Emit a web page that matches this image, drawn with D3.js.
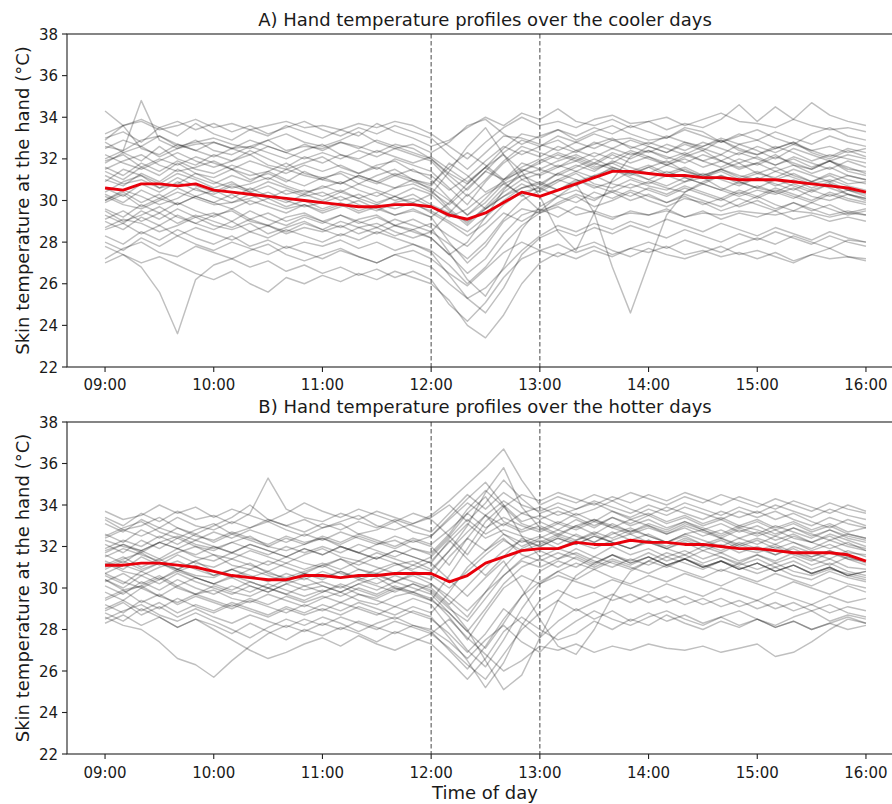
<!DOCTYPE html>
<html>
<head>
<meta charset="utf-8">
<script src="https://cdnjs.cloudflare.com/ajax/libs/d3/7.8.5/d3.min.js"></script>
<style>
    body { margin: 0; background: #fff; }
    svg { display: block; }
    text { font-family: "DejaVu Sans", sans-serif; fill: #1a1a1a; }
</style>
</head>
<body>
<div id="chart"></div>
<script>
// sample times in hours, one every 10 minutes from 09:00 to 16:00
const sampleTimes = d3.range(0, 43).map(i => 9 + i / 6);
const tickHours = [9, 10, 11, 12, 13, 14, 15, 16];
const tickLabels = ["09:00", "10:00", "11:00", "12:00", "13:00", "14:00", "15:00", "16:00"];
const tempTicks = [22, 24, 26, 28, 30, 32, 34, 36, 38];
const markerHours = [12, 13];
const titles = ["A) Hand temperature profiles over the cooler days", "B) Hand temperature profiles over the hotter days"];

// red line: mean profile
const meanCool = [30.6, 30.5, 30.8, 30.8, 30.7, 30.8, 30.5, 30.4, 30.3, 30.2, 30.1, 30.0,
    29.9, 29.8, 29.7, 29.7, 29.8, 29.8, 29.7, 29.3, 29.1, 29.4, 29.9, 30.4,
    30.2, 30.5, 30.8, 31.1, 31.4, 31.4, 31.3, 31.2, 31.2, 31.1, 31.1, 31.0,
    31.0, 31.0, 30.9, 30.8, 30.7, 30.6, 30.4];
const meanHot = [31.1, 31.1, 31.2, 31.2, 31.1, 31.0, 30.8, 30.6, 30.5, 30.4, 30.4, 30.6,
    30.6, 30.5, 30.6, 30.6, 30.7, 30.7, 30.7, 30.3, 30.6, 31.2, 31.5, 31.8,
    31.9, 31.9, 32.2, 32.1, 32.1, 32.3, 32.2, 32.2, 32.1, 32.1, 32.0, 31.9,
    31.9, 31.8, 31.7, 31.7, 31.7, 31.6, 31.3];

// grey lines: individual profiles on the cooler days
const coolProfiles = [
    [34.3,33.6,33.8,33.4,33.6,33.9, 33.5,33.7,33.4,33.6,33.8,33.5, 33.6,33.4,33.7,33.5,33.8,33.6, 33.2,32.6,32.0,32.8,33.5,34.0, 33.6,33.8,33.5,33.9,34.1,33.7, 33.8,34.0,33.6,33.9,34.2,33.8, 33.7,33.5,33.9,33.6,33.4,33.5, 33.3],
    [32.6,32.4,34.8,32.9,32.5,32.7, 32.8,32.5,32.6,32.9,32.4,32.6, 32.5,32.8,32.6,32.3,32.7,32.5, 32.0,31.2,30.5,31.4,32.3,32.9, 32.6,33.1,32.8,33.2,32.9,33.0, 32.7,33.1,32.8,32.6,33.0,32.7, 32.9,32.5,32.8,32.4,32.6,32.3, 32.5],
    [31.8,32.3,31.9,32.6,32.0,31.7, 32.2,31.9,32.4,32.0,31.6,32.1, 31.8,32.2,31.9,31.5,32.0,31.7, 31.4,30.6,29.8,30.9,31.8,32.4, 32.1,32.6,32.3,32.8,32.5,32.9, 32.6,32.3,32.8,32.5,32.2,32.7, 32.4,32.0,32.5,32.2,31.9,32.2, 32.0],
    [31.4,31.0,31.6,31.2,31.8,31.3, 31.1,31.5,31.0,31.3,30.9,31.4, 31.0,30.8,31.2,30.9,31.3,31.0, 30.5,29.6,28.9,29.7,30.6,31.2, 31.5,31.9,32.2,31.8,32.3,32.0, 32.4,32.1,31.8,32.2,31.9,32.3, 32.0,31.7,32.1,31.8,31.5,31.9, 31.6],
    [30.9,31.5,31.2,30.8,31.3,31.0, 30.6,30.9,30.4,30.7,30.3,30.5, 30.2,30.5,30.1,30.4,30.0,30.3, 29.8,29.4,29.0,29.6,30.2,30.6, 30.8,31.3,31.7,31.4,31.9,31.6, 31.3,31.7,31.4,31.1,31.5,31.2, 31.0,31.4,31.1,30.8,31.0,30.7, 30.5],
    [30.3,29.9,30.5,30.1,30.6,30.2, 29.9,30.3,29.8,30.1,29.7,30.0, 29.6,29.9,29.5,29.8,29.6,29.9, 29.4,28.9,28.3,28.9,29.8,30.4, 30.6,31.0,30.7,31.2,31.5,31.1, 30.8,31.2,30.9,31.3,31.0,30.7, 31.1,30.8,30.5,30.9,30.6,30.3, 30.1],
    [29.6,29.2,29.8,29.4,29.9,29.5, 29.2,29.6,29.1,29.4,29.0,29.3, 29.0,29.3,28.9,29.2,28.8,29.1, 28.7,27.5,26.2,25.4,26.8,28.6, 29.7,30.2,29.9,30.4,30.1,30.5, 30.2,29.9,30.3,30.0,29.7,30.1, 29.8,29.5,29.9,29.6,29.3,29.5, 29.3],
    [29.0,28.6,29.2,28.8,29.3,28.9, 28.6,29.0,28.5,28.8,28.4,28.7, 28.5,28.8,28.4,28.7,28.3,28.6, 28.2,27.4,26.5,27.2,28.4,29.3, 29.6,29.2,29.7,29.4,29.1,29.5, 29.3,29.6,29.2,29.5,29.1,29.4, 29.2,29.5,29.1,29.3,29.0,29.2, 29.0],
    [28.3,27.9,28.5,28.1,28.6,28.2, 27.9,28.3,27.8,28.1,27.7,28.0, 27.8,28.1,27.7,28.0,27.6,27.9, 27.5,26.4,25.3,24.6,25.8,27.4, 28.2,28.6,28.3,28.7,28.4,28.8, 28.5,28.2,28.6,28.3,28.0,28.4, 28.1,28.5,28.2,27.9,28.3,28.0, 27.8],
    [27.0,27.4,26.8,25.6,23.6,26.2, 26.9,27.2,26.8,27.1,26.6,26.9, 26.5,26.8,26.4,26.7,26.3,26.6, 26.2,25.0,24.2,25.1,26.3,27.2, 27.6,27.9,27.5,27.8,27.4,27.7, 27.5,27.8,27.4,27.6,27.3,27.5, 27.2,27.5,27.1,27.4,27.2,27.3, 27.2],
    [27.8,27.4,27.0,27.3,26.9,26.5, 26.2,26.6,26.0,25.6,26.3,26.0, 26.4,26.1,26.5,26.2,26.6,26.3, 26.0,25.2,24.0,23.4,24.5,26.0, 27.0,27.5,27.2,27.6,27.3,27.7, 28.0,27.7,28.1,27.8,27.5,27.9, 28.2,27.9,28.3,28.0,27.7,28.1, 28.0],
    [31.9,32.2,31.6,32.0,31.7,32.1, 31.8,31.5,31.9,31.6,31.3,31.7, 31.4,31.7,31.3,31.6,31.2,31.5, 31.0,30.1,29.3,29.9,30.8,30.3, 29.5,30.2,30.8,29.4,26.8,24.6, 27.0,29.3,30.4,30.9,31.2,30.8, 31.1,30.7,31.0,30.6,30.9,30.5, 30.4],
    [33.0,33.3,32.8,33.5,33.1,33.7, 33.2,32.9,33.4,33.1,33.6,33.3, 33.0,33.4,33.1,33.7,33.3,33.0, 32.6,32.9,33.5,34.0,33.6,34.2, 33.9,34.4,33.8,33.6,33.9,33.5, 33.8,33.4,33.7,33.5,33.9,34.6, 33.8,34.5,33.9,34.7,34.1,33.8, 33.6],
    [30.6,30.2,30.8,30.4,30.9,30.5, 30.3,30.7,30.4,30.1,30.5,30.2, 30.4,30.0,30.3,29.9,30.2,29.8, 29.5,29.0,28.5,29.2,30.0,30.6, 30.9,30.5,31.0,30.7,30.4,30.8, 30.5,30.2,30.6,30.3,30.0,30.4, 30.1,30.5,30.2,29.9,30.3,30.0, 29.8],
    [29.9,30.3,29.7,30.1,29.8,30.2, 29.9,29.6,30.0,29.7,29.4,29.8, 29.5,29.8,29.4,29.7,29.3,29.6, 29.2,28.0,27.0,27.8,29.0,29.6, 29.4,29.7,29.3,29.5,29.2,29.4, 29.3,29.5,29.2,29.4,29.3,29.5, 29.4,29.3,29.5,29.4,29.2,29.4, 29.3],
    [32.5,32.9,32.6,33.1,32.7,32.4, 32.8,32.5,32.9,32.6,32.3,32.7, 32.4,32.8,32.5,32.9,32.6,32.3, 32.0,31.3,30.8,31.6,32.5,33.2, 33.0,33.4,33.1,33.5,33.2,33.6, 33.3,33.0,33.4,33.1,32.8,33.2, 32.9,33.3,33.0,32.7,33.1,32.8, 32.6],
    [31.0,30.7,31.3,30.9,31.5,31.1, 30.8,31.2,30.9,31.4,31.0,30.7, 31.1,30.8,31.2,30.9,30.6,31.0, 30.7,31.8,31.2,30.4,30.9,31.5, 31.2,31.6,31.9,31.5,31.8,31.4, 31.7,31.3,31.6,31.2,31.5,31.1, 31.4,31.0,31.3,30.9,31.2,30.8, 30.9],
    [28.6,28.9,28.4,28.8,28.3,28.7, 28.4,28.1,28.5,28.2,28.6,28.3, 28.0,28.4,28.1,28.5,28.2,27.9, 27.6,26.9,26.0,26.8,27.9,28.8, 29.4,29.9,30.3,30.0,30.5,30.2, 30.6,30.3,30.7,30.4,30.1,30.5, 30.2,30.6,30.3,30.0,30.4,30.1, 29.9],
    [32.9,33.6,32.5,32.2,32.7,32.4, 32.1,32.5,32.2,32.6,32.3,32.0, 32.3,32.0,32.4,32.1,32.5,32.2, 31.9,31.0,30.2,31.0,31.9,32.6, 32.3,32.0,32.4,32.1,32.5,32.2, 32.4,32.0,32.3,31.9,32.2,31.8, 32.1,31.7,32.0,31.6,31.9,31.5, 31.4],
    [29.3,28.9,29.5,29.1,29.6,29.2, 29.4,29.0,29.5,29.1,28.8,29.2, 28.9,29.3,29.0,28.7,29.1,28.8, 28.5,27.9,27.2,28.0,29.1,30.0, 30.5,31.0,31.4,31.1,31.6,31.3, 31.0,31.4,31.1,30.8,31.2,30.9, 30.6,31.0,30.7,30.4,30.8,30.5, 30.3],
    [30.0,30.4,29.9,30.3,29.8,30.2, 30.5,30.1,30.6,30.2,29.9,30.3, 30.0,30.4,30.1,29.8,30.2,29.9, 30.3,31.4,32.6,33.5,32.2,31.0, 31.3,31.7,31.4,31.8,31.5,31.2, 31.6,31.2,31.5,31.1,31.4,31.0, 31.3,31.6,31.2,30.9,31.3,31.0, 30.8],
    [28.0,27.6,28.2,27.8,28.3,27.9, 27.6,28.0,27.7,27.4,27.8,27.5, 27.2,27.6,27.3,27.0,27.4,27.1, 26.8,26.0,25.3,25.8,26.7,27.6, 28.3,28.8,28.5,28.9,28.6,29.0, 28.7,29.1,28.8,28.5,28.9,28.6, 28.3,28.7,28.4,28.1,28.5,28.2, 28.0],
    [33.2,33.6,33.9,33.5,33.8,33.4, 33.7,33.3,33.6,33.2,33.5,33.8, 33.4,33.1,33.5,33.2,33.6,33.3, 33.0,32.2,31.5,32.3,33.1,33.0, 32.7,32.4,32.8,32.5,32.9,32.6, 32.3,32.7,32.4,32.8,32.5,32.2, 32.6,32.3,32.7,32.4,32.1,32.5, 32.3],
    [31.2,30.8,31.0,30.6,31.1,30.7, 30.4,30.8,30.5,30.9,30.6,30.3, 30.7,30.4,30.8,30.5,30.2,30.6, 30.3,29.5,28.8,29.6,30.4,31.0, 30.6,30.2,30.5,30.1,30.4,30.0, 30.3,29.9,30.2,29.8,30.1,29.7, 30.0,29.6,29.9,29.5,29.8,29.4, 29.6],
    [29.1,29.5,29.0,29.4,28.9,29.3, 29.0,28.7,29.1,28.8,28.5,28.9, 28.6,29.0,28.7,28.4,28.8,28.5, 28.2,27.4,28.0,29.2,30.5,31.4, 31.8,32.2,31.9,32.3,32.0,32.4, 32.1,31.8,32.2,31.9,31.6,32.0, 31.7,32.1,31.8,31.5,31.9,31.6, 31.3],
    [31.6,31.2,31.8,31.4,31.9,31.5, 31.3,31.7,31.4,31.0,31.5,31.2, 31.0,31.4,31.1,30.8,31.2,30.9, 30.6,30.0,29.3,30.1,31.0,31.6, 32.0,31.6,32.1,31.7,32.2,31.8, 32.1,31.7,32.0,31.6,31.9,31.5, 31.8,31.4,31.7,31.3,31.6,31.2, 31.0],
    [32.0,32.4,32.9,33.1,32.6,32.8, 33.0,32.7,32.5,32.9,33.2,32.8, 32.6,32.9,33.3,32.8,32.5,32.7, 32.3,32.8,33.6,33.9,33.2,32.7, 33.1,33.4,32.9,33.3,33.6,33.2, 32.9,33.0,33.5,33.3,32.8,33.1, 33.4,33.0,32.7,33.2,33.5,33.1, 32.9],
    [31.5,31.9,32.2,31.7,31.4,31.6, 31.9,31.5,31.2,31.4,31.8,31.3, 31.1,31.3,30.8,31.2,31.5,31.0, 30.8,31.6,32.3,31.7,31.0,31.4, 31.9,32.3,32.0,31.6,31.8,32.3, 32.0,31.7,32.1,32.4,31.9,31.6, 31.8,32.2,31.7,31.5,31.9,31.4, 31.2],
    [30.2,29.8,29.6,30.0,30.4,30.1, 29.8,29.9,30.3,29.9,29.6,29.8, 29.4,29.7,30.0,29.6,29.3,29.5, 29.2,29.9,30.8,31.6,30.9,30.2, 30.7,31.3,31.0,30.6,30.9,31.4, 31.0,30.7,31.1,30.8,30.5,30.9, 30.6,30.4,30.8,30.5,30.2,30.5, 30.2],
    [28.7,29.1,28.9,28.5,28.8,29.2, 28.8,28.6,28.9,28.4,28.7,29.0, 28.6,28.3,28.7,28.9,28.5,28.2, 28.5,29.4,30.3,29.6,30.2,30.8, 30.4,30.9,31.3,30.8,30.6,31.0, 30.7,30.5,30.9,31.1,30.6,30.3, 30.7,30.4,30.1,30.5,30.8,30.3, 30.1],
    [32.2,31.8,31.5,31.9,32.3,31.9, 31.6,31.9,32.2,31.7,31.5,31.8, 32.1,31.6,31.3,31.7,31.9,31.4, 31.2,30.5,31.1,31.9,32.6,32.2, 32.6,32.9,32.4,32.7,33.0,32.5, 32.8,32.5,32.2,32.6,32.9,32.4, 32.2,32.6,32.3,31.9,32.2,32.0, 31.8],
    [29.5,29.0,29.3,29.7,29.2,28.9, 29.3,29.5,29.0,28.8,29.2,29.4, 29.0,28.7,29.1,29.3,28.8,28.6, 28.9,28.3,27.8,28.6,29.4,29.0, 29.5,29.8,30.2,29.7,30.0,30.4, 30.0,29.7,30.1,29.9,29.5,29.8, 30.2,29.8,29.5,29.9,29.6,29.3, 29.5],
    [30.4,30.9,31.2,30.6,30.8,31.3, 30.9,30.6,30.8,31.1,30.7,30.4, 30.6,30.9,30.5,30.2,30.6,30.8, 30.4,29.8,30.6,31.4,31.0,31.8, 31.5,31.2,31.6,32.0,31.6,31.3, 31.6,31.9,31.4,31.2,31.5,31.8, 31.3,31.1,31.5,31.2,30.9,31.2, 31.0],
    [32.8,32.3,32.6,32.1,32.5,32.9, 32.4,32.2,32.6,32.3,32.0,32.4, 32.7,32.2,32.0,32.4,32.1,31.8, 32.1,31.5,30.9,31.6,32.2,31.4, 30.2,28.5,27.6,29.4,31.0,32.1, 32.6,32.3,32.7,32.4,32.9,32.5, 32.2,32.5,32.8,32.3,32.0,32.4, 32.1],
    [30.0,30.5,30.2,29.8,30.1,30.6, 30.2,29.9,30.1,30.4,30.0,29.7, 29.9,30.2,29.8,29.5,29.9,30.1, 29.7,29.2,29.6,30.3,30.8,31.2, 30.8,30.5,30.9,31.2,30.8,30.6, 30.9,30.6,30.4,30.8,30.5,30.2, 30.5,30.3,30.6,30.2,30.0,30.3, 30.0],
    [27.2,27.7,28.0,27.5,27.3,27.8, 27.5,27.2,27.6,27.9,27.4,27.1, 27.4,27.7,27.3,27.0,27.4,27.6, 27.2,26.5,25.9,26.7,27.5,28.0, 27.6,27.3,27.7,28.0,27.6,27.3, 27.7,27.4,27.2,27.5,27.8,27.4, 27.6,27.3,27.0,27.4,27.7,27.3, 27.1]
];

// grey lines: individual profiles on the hotter days
const hotProfiles = [
    [33.4,33.0,33.6,33.2,33.7,33.3, 33.5,33.1,33.6,35.3,33.8,33.4, 33.2,33.6,33.3,33.7,33.4,33.1, 33.5,34.2,35.0,35.8,36.7,35.2, 34.0,34.4,34.1,34.5,34.2,34.6, 34.3,34.0,34.4,34.1,34.5,34.2, 33.9,34.3,34.0,33.7,34.1,33.8, 33.6],
    [32.4,32.8,32.5,32.9,32.6,32.3, 32.7,32.4,32.8,32.5,32.2,32.6, 32.3,32.7,32.4,32.1,32.5,32.2, 32.5,33.4,34.3,35.1,34.0,33.2, 33.5,33.1,33.6,33.2,33.7,33.3, 33.6,33.2,33.5,33.1,33.4,33.0, 33.3,32.9,33.2,32.8,33.1,32.7, 32.9],
    [31.9,32.3,32.0,32.5,32.1,32.6, 32.2,32.6,32.3,32.0,32.4,32.1, 32.5,32.2,32.6,32.3,32.0,32.4, 32.1,32.8,33.6,32.9,33.4,33.0, 32.7,33.1,32.8,33.2,32.9,33.3, 33.0,32.7,33.1,32.8,32.5,32.9, 32.6,33.0,32.7,32.4,32.8,32.5, 32.3],
    [31.6,31.2,31.8,31.4,31.9,31.5, 31.3,31.7,31.4,31.1,31.5,31.2, 31.0,31.4,31.1,31.5,31.2,30.9, 31.3,32.2,33.1,32.4,32.8,32.5, 32.2,32.6,32.3,32.7,32.4,32.8, 32.5,32.2,32.6,32.3,32.0,32.4, 32.1,32.5,32.2,31.9,32.3,32.0, 31.8],
    [31.1,31.5,31.0,31.4,30.9,31.3, 30.8,30.5,30.9,30.6,30.3,30.7, 30.4,30.8,30.5,30.2,30.6,30.3, 30.0,29.2,30.1,31.0,31.8,32.3, 32.0,32.4,32.1,32.5,32.2,31.9, 32.3,32.0,32.4,32.1,31.8,32.2, 31.9,31.6,32.0,31.7,31.4,31.8, 31.5],
    [30.4,30.0,30.6,30.2,30.7,30.3, 30.0,29.7,30.1,29.8,30.2,29.9, 30.1,29.8,30.2,29.9,30.3,30.0, 29.7,28.8,27.9,29.0,30.2,31.0, 31.4,31.0,31.5,31.1,31.6,31.2, 31.5,31.1,31.4,31.0,31.3,30.9, 31.2,30.8,31.1,30.7,31.0,30.6, 30.8],
    [29.8,29.4,30.0,29.6,30.1,29.7, 29.4,29.1,29.5,29.2,29.6,29.3, 29.6,29.3,29.7,29.4,29.1,29.5, 29.2,28.1,27.0,26.2,27.5,29.0, 30.2,30.8,31.2,30.9,31.3,31.0, 30.7,31.1,30.8,30.5,30.9,30.6, 30.3,30.7,30.4,30.1,30.5,30.2, 30.0],
    [29.2,28.8,29.4,29.0,29.5,29.1, 28.8,29.2,28.9,28.6,29.0,28.7, 29.0,28.7,29.1,28.8,28.5,28.9, 28.6,27.6,26.5,25.2,26.4,28.2, 29.4,29.9,29.5,29.8,29.4,29.7, 29.3,29.6,29.2,29.5,29.1,29.4, 29.0,29.3,28.9,29.2,28.8,29.1, 28.9],
    [28.6,28.2,28.0,27.4,26.6,26.3, 25.7,26.5,27.2,27.8,28.2,27.9, 28.3,28.0,28.4,28.1,27.8,28.2, 27.9,27.0,26.1,27.2,28.5,29.6, 30.3,30.8,30.4,30.9,30.5,30.2, 30.6,30.3,30.7,30.4,30.1,30.5, 30.2,29.9,30.3,30.0,29.7,30.1, 29.8],
    [28.8,28.4,29.0,28.6,28.1,28.5, 28.0,27.5,27.0,26.6,26.9,27.3, 27.6,27.2,27.7,27.3,27.0,27.4, 27.8,28.5,27.6,26.8,26.0,26.5, 27.2,27.0,27.3,26.9,27.2,27.0, 27.3,27.1,27.0,27.2,26.9,27.1, 27.3,26.7,26.9,27.4,28.0,28.5, 28.3],
    [33.1,32.7,33.3,32.9,33.4,33.0, 32.8,33.2,32.9,33.3,33.0,32.7, 33.1,32.8,33.2,32.9,33.3,33.0, 32.7,33.6,34.5,33.8,34.6,34.0, 33.7,34.1,33.8,34.2,33.9,33.6, 34.0,33.7,34.1,33.8,33.5,33.9, 33.6,34.0,33.7,33.4,33.8,33.5, 33.3],
    [31.8,32.1,31.7,32.2,31.9,32.3, 32.0,31.7,32.1,31.8,31.5,31.9, 31.6,32.0,31.7,31.4,31.8,31.5, 31.2,30.4,29.6,30.5,31.3,30.0, 28.5,27.2,26.8,28.0,29.6,30.8, 31.3,31.7,31.4,31.8,31.5,31.2, 31.6,31.3,31.7,31.4,31.1,31.5, 31.2],
    [30.7,31.1,30.8,31.2,30.9,30.6, 30.5,30.9,30.6,30.3,30.7,30.4, 30.8,30.5,30.9,30.6,30.3,30.7, 30.4,31.5,32.4,31.8,32.6,32.2, 32.5,32.1,32.6,32.2,32.7,32.3, 32.6,32.2,32.5,32.1,32.4,32.0, 32.3,31.9,32.2,31.8,32.1,31.7, 31.6],
    [29.5,29.9,29.3,29.7,29.2,29.6, 29.3,29.0,29.4,29.1,28.8,29.2, 28.9,29.3,29.0,28.7,29.1,28.8, 28.5,27.8,26.9,27.8,29.0,28.3, 27.6,28.4,29.0,28.5,28.9,28.4, 28.8,28.4,28.7,28.3,28.6,28.2, 28.5,28.1,28.4,28.0,28.3,28.6, 28.3],
    [32.1,31.7,32.3,31.9,32.4,32.0, 31.8,32.2,31.9,31.6,32.0,31.7, 32.0,31.7,32.1,31.8,31.5,31.9, 31.6,32.5,33.6,34.4,33.2,32.8, 33.2,32.8,33.3,32.9,33.4,33.0, 33.3,32.9,33.2,32.8,33.1,32.7, 33.0,32.6,32.9,32.5,32.8,32.4, 32.2],
    [30.1,29.7,30.3,29.9,30.4,30.0, 29.7,30.1,29.8,30.2,29.9,29.6, 29.9,29.6,30.0,29.7,30.1,29.8, 29.5,28.6,27.5,28.8,30.0,30.6, 30.2,30.6,30.3,30.0,30.4,30.1, 29.8,30.2,29.9,29.6,30.0,29.7, 29.4,29.8,29.5,29.2,29.6,29.3, 29.5],
    [31.3,30.9,31.5,31.1,31.6,31.2, 31.0,31.4,31.1,30.8,31.2,30.9, 31.2,30.9,31.3,31.0,30.7,31.1, 30.8,31.8,33.0,34.6,35.8,33.9, 32.9,32.5,33.0,32.6,33.1,32.7, 33.0,32.6,32.9,32.5,32.8,32.4, 32.7,32.3,32.6,32.2,32.5,32.1, 31.9],
    [28.9,29.3,28.7,29.1,28.6,29.0, 28.6,28.3,28.7,28.4,28.1,28.5, 28.2,28.6,28.3,28.0,28.4,28.1, 27.8,27.1,26.3,25.6,26.8,28.0, 28.8,29.4,28.9,29.3,29.7,29.3, 29.7,29.3,29.6,29.2,29.5,29.1, 29.4,29.0,29.3,28.9,29.2,28.8, 28.6],
    [33.7,33.3,33.5,34.0,33.6,33.9, 33.4,33.8,33.5,33.2,33.6,34.1, 33.7,33.4,33.8,33.5,33.2,33.6, 33.3,32.5,31.6,32.8,33.9,34.5, 34.2,34.6,34.3,34.0,34.4,34.1, 34.5,34.2,34.6,34.3,34.0,34.4, 34.1,33.8,34.2,33.9,33.6,34.0, 33.7],
    [30.6,30.2,30.8,30.4,30.9,30.5, 30.2,30.6,30.3,30.0,30.4,30.1, 30.3,30.0,30.4,30.1,29.8,30.2, 29.9,29.1,28.0,26.5,25.1,25.8, 27.6,29.4,30.6,31.2,31.6,31.2, 31.5,31.1,31.4,31.0,31.3,30.9, 31.2,30.8,31.1,30.7,31.0,30.6, 30.4],
    [32.6,32.2,32.8,32.4,32.9,32.5, 32.3,32.7,32.4,32.1,32.5,32.2, 32.4,32.1,32.5,32.2,31.9,32.3, 32.0,31.1,32.4,33.5,33.0,33.6, 33.3,33.7,33.4,33.0,33.4,33.1, 33.5,33.1,33.4,33.0,33.3,32.9, 33.2,32.8,33.1,32.7,33.0,32.6, 32.4],
    [29.0,29.4,28.9,29.3,28.8,29.2, 28.9,29.3,29.0,28.7,29.1,28.8, 29.2,28.9,29.3,29.0,28.7,29.1, 28.8,29.8,31.0,31.8,32.4,31.6, 31.3,31.7,31.4,31.0,31.4,31.1, 31.5,31.1,31.4,31.0,31.3,30.9, 31.2,30.8,31.1,30.7,31.0,30.6, 30.8],
    [31.7,32.1,31.8,32.2,31.9,31.6, 32.0,31.7,32.1,31.8,31.5,31.9, 31.6,32.0,31.7,31.4,31.8,31.5, 31.2,32.3,31.4,30.6,31.5,32.4, 32.0,32.4,32.1,32.5,32.2,31.9, 32.3,31.9,32.2,31.8,32.1,31.7, 32.0,31.6,31.9,31.5,31.8,31.4, 31.3],
    [30.3,30.7,30.2,30.6,30.1,30.5, 30.2,29.9,30.3,30.0,29.7,30.1, 29.8,30.2,29.9,29.6,30.0,29.7, 29.4,30.6,31.9,33.2,34.0,32.5, 31.5,31.9,31.6,31.2,31.6,31.3, 31.7,31.3,31.6,31.2,31.5,31.1, 31.4,31.0,31.3,30.9,31.2,30.8, 30.6],
    [28.3,28.7,28.2,28.6,28.1,28.5, 28.2,27.8,28.3,27.9,27.5,28.0, 27.7,28.1,27.8,27.4,27.9,27.6, 27.3,26.5,25.6,26.6,27.9,28.6, 28.0,27.5,27.8,28.4,28.0,28.5, 28.2,28.7,28.3,28.0,28.4,28.1, 28.5,28.1,28.4,28.0,28.3,28.0, 28.2],
    [30.9,31.3,30.9,31.2,30.8,31.1, 30.6,30.9,30.5,30.8,30.4,30.7, 30.5,30.8,30.4,30.7,30.3,30.6, 30.2,29.6,28.9,29.8,30.6,31.4, 31.8,31.4,31.9,31.5,32.0,31.6, 31.9,31.5,31.8,31.4,31.7,31.3, 31.6,31.2,31.5,31.1,31.4,31.0, 30.9],
    [32.5,32.9,33.2,32.7,32.4,32.8, 33.1,32.6,32.9,33.2,32.8,32.5, 32.9,33.1,32.6,32.8,33.2,32.7, 32.5,33.3,34.1,33.5,34.2,33.6, 33.9,33.5,33.8,34.1,33.7,33.4, 33.8,33.5,33.9,33.6,33.3,33.7, 33.4,33.7,33.3,33.0,33.4,33.1, 32.9],
    [31.0,31.4,31.7,31.2,30.9,31.3, 31.6,31.1,30.9,31.3,31.0,30.7, 31.1,31.4,30.9,30.7,31.1,31.3, 30.9,31.8,32.7,33.5,32.6,32.0, 32.4,32.8,32.5,32.2,32.6,32.9, 32.5,32.2,32.6,32.8,32.4,32.1, 32.4,32.1,32.5,32.2,31.9,32.2, 31.8],
    [30.4,29.9,30.1,30.5,30.0,29.7, 30.1,29.8,29.6,30.0,29.7,29.4, 29.8,30.1,29.7,29.5,29.9,30.2, 29.8,29.0,28.4,29.5,30.6,31.3, 31.0,31.4,31.7,31.3,31.0,31.4, 31.1,31.5,31.2,30.9,31.3,31.0, 30.7,31.0,30.6,30.4,30.8,30.5, 30.3],
    [32.3,32.0,31.8,32.2,32.5,32.1, 31.9,32.2,32.5,32.0,31.8,32.1, 32.4,32.0,31.7,32.1,32.3,31.9, 31.7,32.6,33.8,34.7,33.9,33.1, 32.8,33.2,32.9,33.3,33.0,32.7, 33.1,32.8,33.2,32.9,32.6,33.0, 32.8,32.5,32.9,32.6,32.3,32.6, 32.4],
    [29.4,29.8,30.1,29.6,29.3,29.7, 29.9,29.5,29.3,29.7,29.4,29.1, 29.5,29.8,29.4,29.2,29.6,29.8, 29.4,28.8,27.9,27.1,28.3,29.6, 30.8,31.3,31.0,31.5,31.2,30.9, 31.3,31.0,31.4,31.1,30.8,31.2, 30.9,31.2,30.8,30.6,30.9,30.7, 30.5],
    [33.3,32.8,33.0,33.4,32.9,32.6, 33.0,33.4,34.0,33.3,33.0,33.3, 32.9,33.2,33.5,33.0,32.8,33.1, 33.4,34.0,33.2,34.1,35.2,34.3, 33.6,33.9,33.5,33.8,34.2,33.8, 33.5,33.9,33.6,33.3,33.7,33.4, 33.7,33.3,33.6,33.2,32.9,33.3, 33.0],
    [31.2,30.8,30.6,31.0,31.3,30.9, 30.6,30.9,31.2,30.7,30.5,30.8, 31.1,30.7,30.5,30.9,31.2,30.8, 30.6,30.0,30.8,31.6,32.3,31.8, 32.1,32.5,32.2,31.9,32.3,32.6, 32.2,31.9,32.3,32.0,31.7,32.1, 31.8,32.1,31.7,31.5,31.8,31.5, 31.3],
    [28.5,28.9,29.2,28.7,28.4,28.8, 28.4,28.0,27.6,28.1,28.5,28.2, 28.6,28.3,27.9,28.3,28.6,28.2, 28.0,27.4,26.6,27.5,28.2,27.4, 26.9,27.8,28.4,28.9,28.5,28.2, 28.6,28.9,28.5,28.2,28.6,28.9, 28.5,28.2,28.6,28.9,28.4,28.7, 28.5],
    [31.5,31.9,31.6,31.3,31.7,32.0, 31.6,31.4,31.8,31.5,31.2,31.6, 31.9,31.5,31.3,31.7,31.4,31.1, 31.5,32.4,33.3,32.6,33.1,32.7, 33.0,32.6,33.0,33.3,32.9,32.6, 32.9,32.6,33.0,32.7,32.4,32.8, 32.5,32.8,32.4,32.2,32.6,32.3, 32.0],
    [30.7,30.3,30.0,30.4,30.8,30.5, 30.2,30.5,30.1,29.8,30.2,30.5, 30.1,29.8,30.2,30.5,30.0,29.8, 30.2,29.4,28.6,29.8,31.0,31.9, 32.3,31.9,32.3,32.6,32.2,31.9, 32.2,31.9,31.6,32.0,32.3,31.9, 31.7,32.0,31.6,31.3,31.7,31.4, 31.1]
];

function setupChart() {

    const width = 892
    const height = 804

    let svg = d3.select("#chart")
        .append("svg")
        .attr("width", width)
        .attr("height", height)

    // axes box runs past the right edge of the picture, as in the original figure
    let x = d3.scaleLinear()
        .domain([8.65, 16.35])
        .range([67, 904])

    drawPanel(svg, x, { top: 34, bottom: 367, title: titles[0], profiles: coolProfiles, mean: meanCool, titleY: 26, tickY: 390 })
    drawPanel(svg, x, { top: 422, bottom: 754, title: titles[1], profiles: hotProfiles, mean: meanHot, titleY: 413, tickY: 778 })

    svg.append("text")
        .attr("x", 485)
        .attr("y", 799)
        .attr("text-anchor", "middle")
        .style("font-size", "18px")
        .text("Time of day")
}

function drawPanel(svg, x, p) {

    let y = d3.scaleLinear()
        .domain([22, 38])
        .range([p.bottom, p.top])

    let g = svg.append("g")

    let line = d3.line()
        .x(function (d, i) { return x(sampleTimes[i]) })
        .y(function (d) { return y(d) })

    // individual profiles in translucent black
    g.selectAll("path.profile")
        .data(p.profiles)
        .enter()
        .append("path")
        .attr("class", "profile")
        .attr("d", line)
        .attr("fill", "none")
        .attr("stroke", "#000")
        .attr("stroke-opacity", 0.25)
        .attr("stroke-width", 1.45)
        .attr("stroke-linejoin", "round")

    // 12:00 and 13:00 markers
    g.selectAll("line.marker")
        .data(markerHours)
        .enter()
        .append("line")
        .attr("x1", d => x(d))
        .attr("x2", d => x(d))
        .attr("y1", p.top)
        .attr("y2", p.bottom)
        .attr("stroke", "#666")
        .attr("stroke-width", 1.2)
        .attr("stroke-dasharray", "4.5,2.5")

    // mean profile
    g.append("path")
        .datum(p.mean)
        .attr("d", line)
        .attr("fill", "none")
        .attr("stroke", "#e8000b")
        .attr("stroke-width", 2.9)
        .attr("stroke-linejoin", "round")

    // frame
    g.append("rect")
        .attr("x", x.range()[0])
        .attr("y", p.top)
        .attr("width", x.range()[1] - x.range()[0])
        .attr("height", p.bottom - p.top)
        .attr("fill", "none")
        .attr("stroke", "#222")
        .attr("stroke-width", 1.1)

    // y ticks
    g.selectAll("line.ytick")
        .data(tempTicks)
        .enter()
        .append("line")
        .attr("x1", 62)
        .attr("x2", 67)
        .attr("y1", d => y(d))
        .attr("y2", d => y(d))
        .attr("stroke", "#222")
        .attr("stroke-width", 1.1)

    g.selectAll("text.ytick")
        .data(tempTicks)
        .enter()
        .append("text")
        .attr("x", 58)
        .attr("y", d => y(d) + 5.5)
        .attr("text-anchor", "end")
        .style("font-size", "15px")
        .text(d => d)

    // x ticks
    g.selectAll("line.xtick")
        .data(tickHours)
        .enter()
        .append("line")
        .attr("x1", d => x(d))
        .attr("x2", d => x(d))
        .attr("y1", p.bottom)
        .attr("y2", p.bottom + 5)
        .attr("stroke", "#222")
        .attr("stroke-width", 1.1)

    g.selectAll("text.xtick")
        .data(tickHours)
        .enter()
        .append("text")
        .attr("x", d => x(d))
        .attr("y", p.tickY)
        .attr("text-anchor", "middle")
        .style("font-size", "15px")
        .text((d, i) => tickLabels[i])

    g.append("text")
        .attr("x", 485)
        .attr("y", p.titleY)
        .attr("text-anchor", "middle")
        .style("font-size", "18px")
        .text(p.title)

    g.append("text")
        .attr("transform", "translate(29," + ((p.top + p.bottom) / 2) + ") rotate(-90)")
        .attr("text-anchor", "middle")
        .style("font-size", "18px")
        .text("Skin temperature at the hand (°C)")
}

setupChart();
</script>
</body>
</html>
